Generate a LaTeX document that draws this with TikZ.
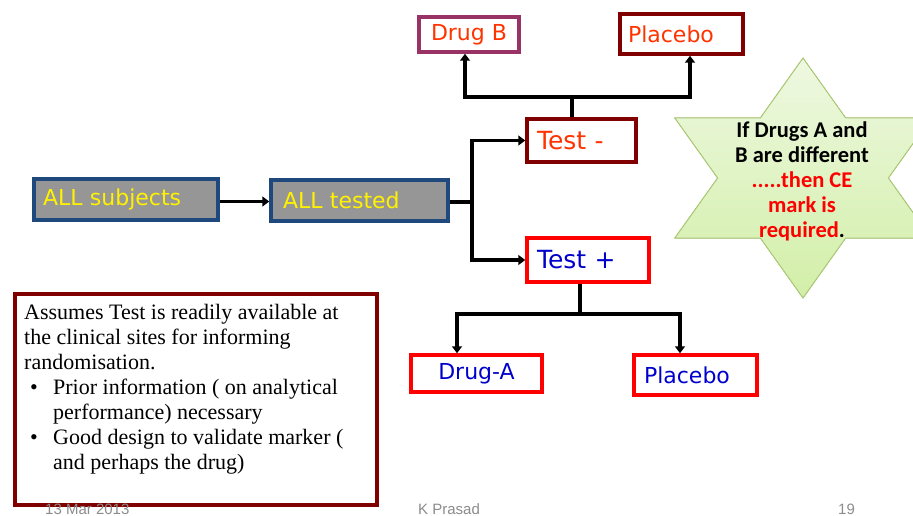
\documentclass[tikz,border=0pt]{standalone}
\usepackage{fontspec}
\setmainfont{Liberation Serif}
\newfontfamily\boxfont{DejaVu Sans}
\newfontfamily\starfont{Carlito}
\newfontfamily\footfont{Liberation Sans}
\usetikzlibrary{arrows.meta}

\definecolor{plum}{RGB}{153,51,102}
\definecolor{darkmaroon}{RGB}{128,0,0}
\definecolor{redorange}{RGB}{255,51,0}
\definecolor{testblue}{RGB}{0,0,204}
\definecolor{slateblue}{RGB}{31,73,125}
\definecolor{boxgrey}{RGB}{150,150,150}
\definecolor{startop}{RGB}{238,248,225}
\definecolor{starbot}{RGB}{210,239,168}
\definecolor{staredge}{RGB}{170,200,115}
\definecolor{footgrey}{RGB}{140,140,140}

\begin{document}
\begin{tikzpicture}[x=1pt, y=-1pt,
    box/.style={draw, line width=3.5pt, fill=white, inner ysep=0pt, align=left,
        font=\boxfont\fontsize{22}{26}\selectfont},
    allbox/.style={box, draw=slateblue, fill=boxgrey, text=yellow, minimum height=41pt},
    conn/.style={line width=3.5pt},
    arrowed/.style={conn, -{Triangle[length=7pt,width=10pt]}},
    foot/.style={anchor=base west, inner sep=0pt, text=footgrey, font=\footfont\fontsize{15}{18}\selectfont}]
    \useasboundingbox (0,0) rectangle (913,516);
    \fill[white] (0,0) rectangle (913,516);
    \clip (0,0) rectangle (913,516);

    % Star note
    \begin{scope}[shift={(803,178)}]
        \filldraw[draw=staredge, line width=1pt, top color=startop, bottom color=starbot]
            (0,120) -- (-42.7,60) -- (-128.2,60) -- (-85.4,0) -- (-128.2,-60) -- (-42.7,-60)
            -- (0,-120) -- (42.7,-60) -- (128.2,-60) -- (85.4,0) -- (128.2,60) -- (42.7,60) -- cycle;
    \end{scope}
    \node[align=center, font=\starfont\bfseries\fontsize{22.5}{25}\selectfont] (ce) at (802,181)
        {If Drugs A and\\B are different\\\textcolor{red}{.....then CE}\\\textcolor{red}{mark is}\\\textcolor{red}{required}.};

    % Boxes
    \node[allbox, inner xsep=9pt, text width=166pt] (allSubj) at (126,199.5) {ALL subjects};
    \node[allbox, inner xsep=12pt, text width=153pt] (allTested) at (359.5,200.5) {ALL tested};

    \node[box, draw=darkmaroon, text=redorange, inner xsep=10pt, text width=89pt, minimum height=43pt,
        font=\boxfont\fontsize{25}{28}\selectfont] (testNeg) at (581.5,140.5) {Test -};
    \node[box, draw=red, text=testblue, inner xsep=10pt, text width=102pt, minimum height=44pt,
        font=\boxfont\fontsize{25}{28}\selectfont] (testPos) at (588,260) {Test +};

    \node[box, draw=plum, text=redorange, align=center, minimum width=100pt, minimum height=35pt] (drugB) at (469,34.5) {Drug B};
    \node[box, draw=darkmaroon, text=redorange, inner xsep=8pt, text width=107pt, minimum height=40pt] (placeboTop) at (681.5,34) {Placebo};

    \node[box, draw=red, text=testblue, align=center, minimum width=131pt, minimum height=37pt] (drugA) at (476.5,373.5) {Drug-A};
    \node[box, draw=red, text=testblue, inner xsep=10pt, text width=103pt, minimum height=40pt] (placeboBot) at (695.5,375) {Placebo};

    % Connectors
    \draw[arrowed] ([yshift=-2pt]allSubj.east) -- ([yshift=-2pt]allSubj.east -| allTested.west);
    \coordinate (fork) at (472,202);
    \draw[conn] (allTested.east |- fork) -- (fork);
    \draw[arrowed] (fork) |- (testNeg.west);
    \draw[arrowed] (fork) |- (testPos.west);

    \draw[conn] ([xshift=-9.5pt]testNeg.north) -- ++(0,-20) coordinate (upfork);
    \draw[arrowed] (upfork) -| ([xshift=-4pt]drugB.south);
    \draw[arrowed] (upfork) -| ([xshift=8.5pt]placeboTop.south);

    \draw[conn] ([xshift=-8pt]testPos.south) -- ++(0,30) coordinate (downfork);
    \draw[arrowed] (downfork) -| ([xshift=-19.5pt]drugA.north);
    \draw[arrowed] (downfork) -| ([xshift=-15.5pt]placeboBot.north);

    % Assumptions
    \draw[darkmaroon, line width=3.5pt] (15,294) rectangle (377,505);
    \node[anchor=north west, inner sep=0pt, align=left, font=\fontsize{22}{25}\selectfont] (notes) at (24,304)
        {Assumes Test is readily available at\\
         the clinical sites for informing\\
         randomisation.\\
         \hspace*{6pt}\makebox[23pt][l]{\textbullet}Prior information ( on analytical\\
         \hspace*{29pt}performance) necessary\\
         \hspace*{6pt}\makebox[23pt][l]{\textbullet}Good design to validate marker (\\
         \hspace*{29pt}and perhaps the drug)};

    % Footer
    \node[foot] (date) at (45,514) {13 Mar 2013};
    \node[foot] (author) at (418,514) {K Prasad};
    \node[foot] (page) at (838,514) {19};
\end{tikzpicture}
\end{document}
